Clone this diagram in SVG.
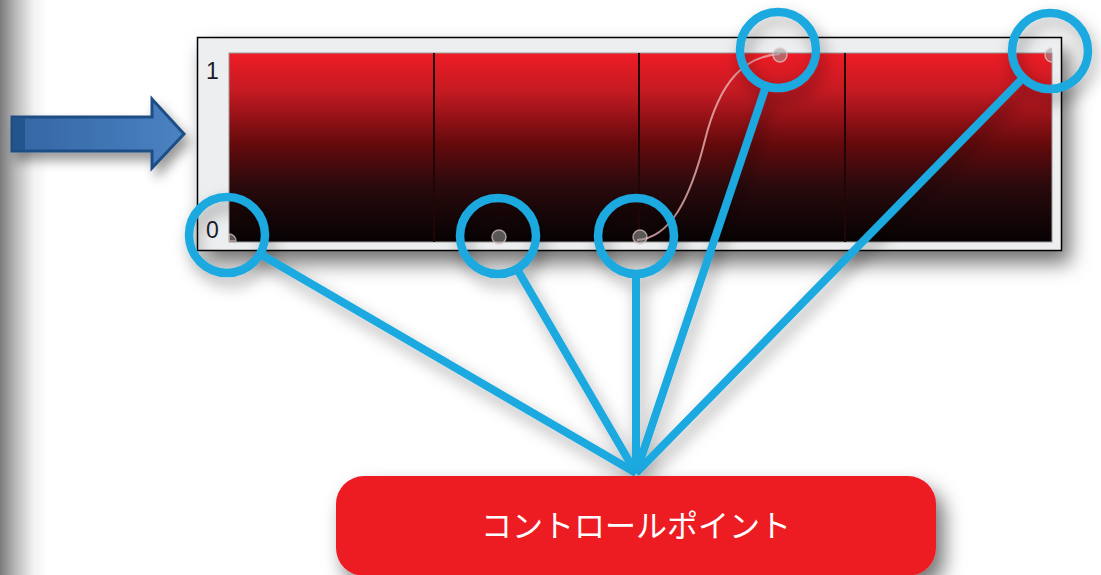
<svg xmlns="http://www.w3.org/2000/svg" width="1101" height="575" viewBox="0 0 1101 575">
  <defs>
    <linearGradient id="edge" x1="0" y1="0" x2="1" y2="0">
      <stop offset="0" stop-color="#7a7a7a"/>
      <stop offset="0.3" stop-color="#b5b5b5"/>
      <stop offset="0.7" stop-color="#f2f2f2"/>
      <stop offset="1" stop-color="#ffffff"/>
    </linearGradient>
    <linearGradient id="redgrad" x1="0" y1="0" x2="0" y2="1">
      <stop offset="0" stop-color="#ee1c25"/>
      <stop offset="0.2" stop-color="#c51a22"/>
      <stop offset="0.48" stop-color="#650a0c"/>
      <stop offset="0.7" stop-color="#2a0a0d"/>
      <stop offset="1" stop-color="#060203"/>
    </linearGradient>
    <linearGradient id="arrowgrad" x1="0" y1="0" x2="1" y2="0">
      <stop offset="0" stop-color="#3465a4"/>
      <stop offset="1" stop-color="#4a82c2"/>
    </linearGradient>
    <filter id="shadow" x="-20%" y="-40%" width="140%" height="190%">
      <feDropShadow dx="8" dy="12" stdDeviation="10" flood-color="#000" flood-opacity="0.55"/>
    </filter>
    <filter id="shadowSm" x="-20%" y="-40%" width="150%" height="190%">
      <feDropShadow dx="5" dy="8" stdDeviation="6" flood-color="#000" flood-opacity="0.4"/>
    </filter>
    <filter id="shadowLine" x="-20%" y="-20%" width="140%" height="140%">
      <feDropShadow dx="4" dy="8" stdDeviation="8" flood-color="#000" flood-opacity="0.35"/>
    </filter>
  </defs>
  <style>
    .axis { font-family: "Liberation Sans", Arial, sans-serif; font-size: 23px; fill: #1b1b2b; }
    .ring { fill: none; stroke: #1aa9e0; stroke-width: 8.5; }
    .conn { stroke: #1aa9e0; stroke-width: 8; stroke-linecap: butt; }
    .divider { stroke: #220606; stroke-width: 2; }
    .cp { fill: #9a9a9a; fill-opacity: 0.55; stroke: #e6c8c8; stroke-opacity: 0.7; stroke-width: 1.5; }
    .label { font-family: "Noto Sans CJK JP", "Noto Sans", sans-serif; font-size: 31px; fill: #ffffff; }
  </style>

  <rect x="0" y="0" width="1101" height="575" fill="#ffffff"/>
  <rect x="0" y="0" width="48" height="575" fill="url(#edge)"/>

  <g id="arrow" filter="url(#shadowSm)">
    <path d="M12,117 H152 V99 L184,134 L152,168 V151 H12 Z" fill="url(#arrowgrad)" stroke="#1f4e85" stroke-width="3" stroke-linejoin="miter"/>
    <rect x="13" y="118" width="12" height="32" fill="#24548c"/>
  </g>

  <g id="chart">
    <rect x="197.5" y="37.5" width="864" height="213" fill="#eceeef" stroke="#000" stroke-width="1.5" filter="url(#shadow)"/>
    <rect x="229" y="53" width="823" height="189" fill="url(#redgrad)" stroke="#9a9a9a" stroke-width="1"/>
    <line class="divider" x1="434" y1="53" x2="434" y2="242"/>
    <line class="divider" x1="639" y1="53" x2="639" y2="242"/>
    <line class="divider" x1="845" y1="53" x2="845" y2="242"/>
    <path d="M637,240 C670,238 690,200 705,140 C720,80 745,56 780,54" fill="none" stroke="#e8b4b4" stroke-opacity="0.8" stroke-width="2"/>
    <text class="axis" x="206" y="79">1</text>
    <text class="axis" x="206" y="238">0</text>
    <g id="control-points">
      <path class="cp" d="M229,234 A7,7 0 0 1 236,241 H229 Z"/>
      <circle class="cp" cx="499" cy="237" r="7"/>
      <circle class="cp" cx="640" cy="237" r="7"/>
      <circle class="cp" cx="780" cy="55" r="7"/>
      <path class="cp" d="M1052,62 A7,7 0 0 1 1045,55 A7,7 0 0 1 1052,48"/>
    </g>
  </g>

  <g id="connectors" filter="url(#shadowLine)">
    <line class="conn" x1="260" y1="254" x2="636" y2="473"/>
    <line class="conn" x1="517" y1="269" x2="636" y2="473"/>
    <line class="conn" x1="636" y1="274" x2="636" y2="473"/>
    <line class="conn" x1="766" y1="86" x2="636" y2="473"/>
    <line class="conn" x1="1023" y1="78" x2="636" y2="473"/>
    <circle class="ring" cx="227" cy="235" r="38"/>
    <circle class="ring" cx="498" cy="236" r="38"/>
    <circle class="ring" cx="636" cy="236" r="38"/>
    <circle class="ring" cx="778" cy="50" r="38"/>
    <circle class="ring" cx="1050" cy="51" r="38"/>
  </g>

  <g id="label-box">
    <rect x="336" y="476" width="600" height="100" rx="28" ry="28" fill="#ed1c24" filter="url(#shadow)"/>
    <text class="label" x="636" y="537" text-anchor="middle">コントロールポイント</text>
  </g>
</svg>
